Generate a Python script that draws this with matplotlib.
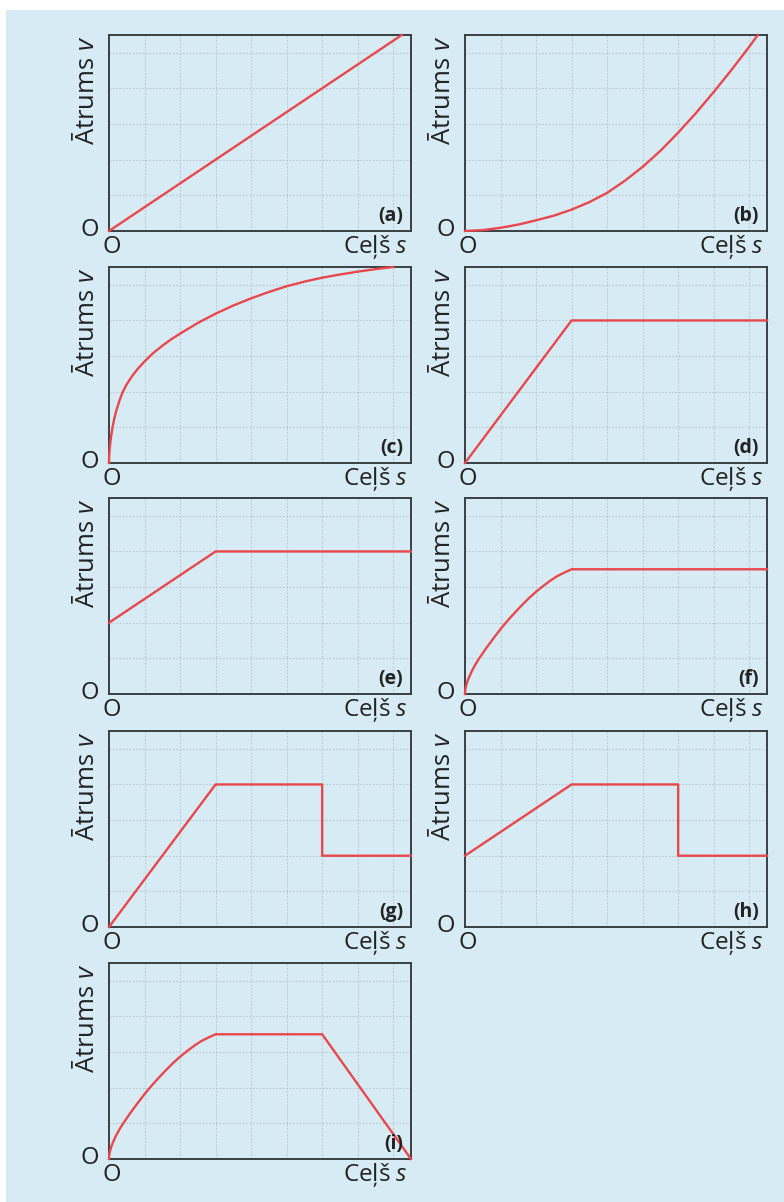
import matplotlib
matplotlib.use("Agg")
import matplotlib.pyplot as plt
from matplotlib.patches import Rectangle

plt.rcParams['font.family'] = ['Open Sans', 'DejaVu Sans']
plt.rcParams['mathtext.fontset'] = 'custom'
plt.rcParams['mathtext.rm'] = 'Open Sans'
plt.rcParams['mathtext.it'] = 'Open Sans:italic'

# values, in grid units (x: 0..8.5, y: 0..5.5)
a_s = [0, 8.24]
a_v = [0, 5.5]

b_s = [0, 0.5, 1, 1.5, 2, 2.5, 3, 3.5, 4, 4.5, 5, 5.5, 6, 6.5, 7, 7.5, 8, 8.24]
b_v = [0, 0.025, 0.09, 0.18, 0.3, 0.43, 0.6, 0.81, 1.07, 1.41, 1.8, 2.25, 2.76, 3.31, 3.9, 4.52, 5.17, 5.5]

c_s = [0, 0.005, 0.02, 0.05, 0.1, 0.15, 0.2, 0.3, 0.4, 0.5, 0.65, 0.8, 1.0, 1.25, 1.5, 1.75,
       2.0, 2.5, 3.0, 3.5, 4.0, 4.5, 5.0, 5.5, 6.0, 6.5, 7.0, 7.5, 8.0]
c_v = [0, 0.18, 0.4, 0.68, 1.0, 1.25, 1.45, 1.77, 2.02, 2.21, 2.44, 2.63, 2.85, 3.09, 3.29, 3.47,
       3.63, 3.93, 4.19, 4.42, 4.62, 4.8, 4.96, 5.09, 5.2, 5.29, 5.37, 5.44, 5.5]

d_s = [0, 3, 8.5]
d_v = [0, 4, 4]

e_s = [0, 3, 8.5]
e_v = [2, 4, 4]

f_s = [0, 0.005, 0.02, 0.05, 0.1, 0.2, 0.3, 0.4, 0.6, 0.8, 1.0, 1.2, 1.4, 1.6, 1.8, 2.0,
       2.2, 2.4, 2.6, 2.8, 3.0, 8.5]
f_v = [0, 0.1, 0.19, 0.3, 0.44, 0.66, 0.84, 1.0, 1.29, 1.56, 1.82, 2.06, 2.28, 2.49, 2.69, 2.87,
       3.03, 3.18, 3.31, 3.41, 3.5, 3.5]

g_s = [0, 3, 6, 6, 8.5]
g_v = [0, 4, 4, 2, 2]

h_s = [0, 3, 6, 6, 8.5]
h_v = [2, 4, 4, 2, 2]

i_s = [0, 0.005, 0.02, 0.05, 0.1, 0.2, 0.3, 0.4, 0.6, 0.8, 1.0, 1.2, 1.4, 1.6, 1.8, 2.0,
       2.2, 2.4, 2.6, 2.8, 3.0, 6.0, 8.5]
i_v = [0, 0.1, 0.19, 0.3, 0.44, 0.66, 0.84, 1.0, 1.29, 1.56, 1.82, 2.06, 2.28, 2.49, 2.69, 2.87,
       3.03, 3.18, 3.31, 3.41, 3.5, 3.5, 0]

panels = [('(a)', a_s, a_v), ('(b)', b_s, b_v), ('(c)', c_s, c_v),
          ('(d)', d_s, d_v), ('(e)', e_s, e_v), ('(f)', f_s, f_v),
          ('(g)', g_s, g_v), ('(h)', h_s, h_v), ('(i)', i_s, i_v)]

W, H = 784, 1202
bg = '#d7ebf5'
red = '#e8474c'
ink = '#222222'

fig = plt.figure(figsize=(W / 100, H / 100), dpi=100, facecolor='white')
fig.patches.append(Rectangle((6 / W, 0), 1 - 6 / W, 1 - 10 / H,
                             transform=fig.transFigure, facecolor=bg,
                             edgecolor='none', zorder=-10))

col_left = [109, 465]
row_top = [35, 267, 498, 731, 963]
aw, ah = 302, 196
px = 0.72  # one pixel in points at 100 dpi

for k, (tag, s, v) in enumerate(panels):
    r, c = divmod(k, 2)
    x0, y0 = col_left[c], row_top[r]
    ax = fig.add_axes([x0 / W, 1 - (y0 + ah) / H, aw / W, ah / H])
    ax.set_facecolor(bg)
    ax.set_xlim(0, 8.5)
    ax.set_ylim(0, 5.5)
    ax.set_xticks(range(1, 9))
    ax.set_yticks(range(1, 6))
    ax.tick_params(length=0, labelbottom=False, labelleft=False)
    ax.grid(True, color='#bcc8cf', linestyle=(0, (1.5, 1.5)), linewidth=0.8)
    for sp in ax.spines.values():
        sp.set_color('#3a3f44')
        sp.set_linewidth(1.4)
    ax.plot(s, v, color=red, linewidth=1.7, clip_on=False, zorder=3,
            solid_joinstyle='round')

    ax.annotate('O', (0, 0), xycoords='axes fraction', xytext=(-19 * px, 1 * px),
                textcoords='offset points', ha='center', va='center', fontsize=17,
                color=ink)
    ax.annotate('O', (0, 0), xycoords='axes fraction', xytext=(3 * px, -16 * px),
                textcoords='offset points', ha='center', va='center', fontsize=17,
                color=ink)
    ax.annotate('Ceļš $s$', (1, 0), xycoords='axes fraction', xytext=(-3 * px, -16 * px),
                textcoords='offset points', ha='right', va='center', fontsize=17.5,
                color=ink)
    ax.annotate('Ātrums $v$', (0, 1), xycoords='axes fraction', xytext=(-22 * px, 0),
                textcoords='offset points', ha='center', va='top', rotation=90,
                fontsize=18.5, color=ink)
    ax.annotate(tag, (1, 0), xycoords='axes fraction', xytext=(-8 * px, 5 * px),
                textcoords='offset points', ha='right', va='bottom', fontsize=14,
                fontweight='bold', color=ink)

fig.savefig('out.png', dpi=100, facecolor='white')
